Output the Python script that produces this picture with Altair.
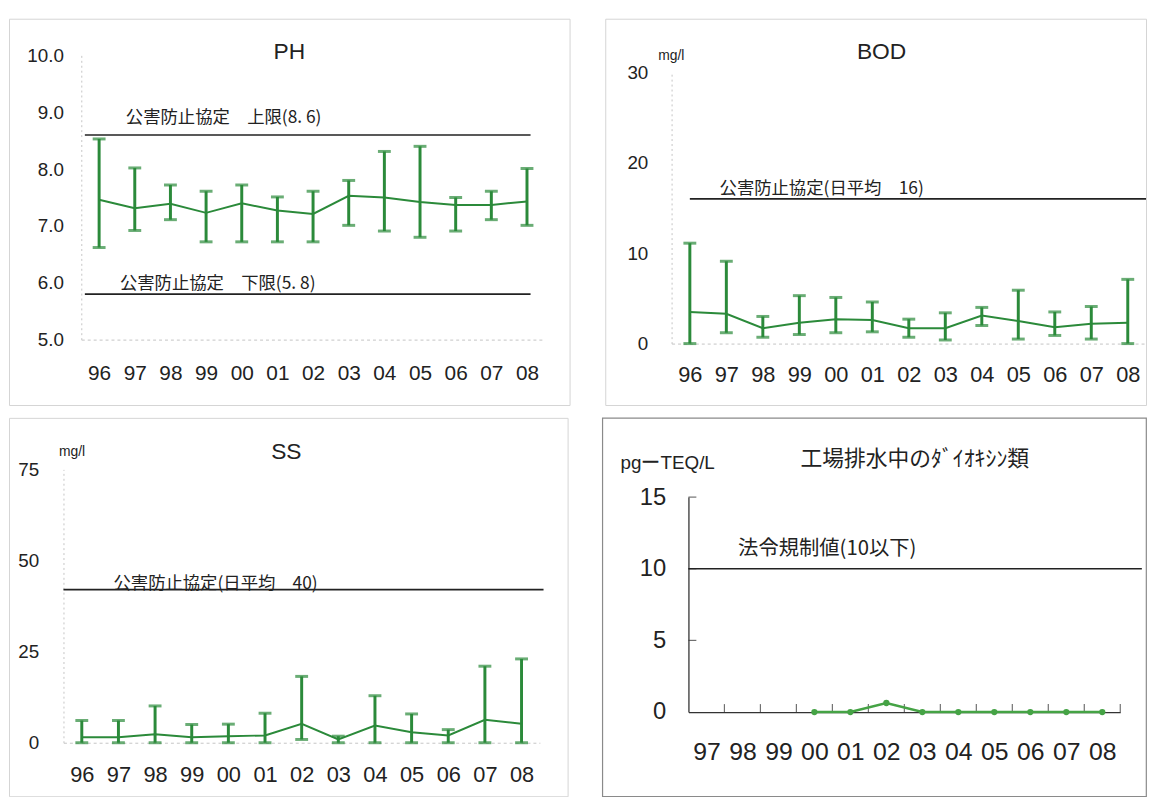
import altair as alt
import pandas as pd

# ---------------- data ----------------
years13 = ["96", "97", "98", "99", "00", "01", "02", "03", "04", "05", "06", "07", "08"]

ph_mean = [7.46, 7.31, 7.39, 7.23, 7.40, 7.27, 7.21, 7.53, 7.50, 7.42, 7.37, 7.37, 7.43]
ph_min = [6.62, 6.92, 7.11, 6.72, 6.72, 6.72, 6.72, 7.01, 6.91, 6.80, 6.91, 7.11, 7.01]
ph_max = [8.53, 8.02, 7.72, 7.61, 7.72, 7.51, 7.61, 7.80, 8.31, 8.40, 7.50, 7.61, 8.01]

bod_mean = [3.5, 3.3, 1.7, 2.3, 2.7, 2.6, 1.7, 1.7, 3.1, 2.5, 1.8, 2.2, 2.3]
bod_min = [0.0, 1.2, 0.7, 1.0, 1.2, 1.3, 0.7, 0.4, 2.0, 0.5, 0.9, 0.5, 0.0]
bod_max = [11.1, 9.1, 3.0, 5.3, 5.1, 4.6, 2.7, 3.4, 4.0, 5.9, 3.5, 4.1, 7.1]

ss_mean = [1.5, 1.5, 2.3, 1.5, 1.8, 2.0, 5.2, 0.9, 4.7, 2.9, 2.0, 6.3, 5.2]
ss_min = [0.0, 0.0, 0.0, 0.0, 0.0, 0.0, 0.9, 0.0, 0.0, 0.0, 0.0, 0.0, 0.0]
ss_max = [6.1, 6.1, 10.1, 5.0, 5.1, 8.1, 18.2, 1.8, 12.9, 7.9, 3.6, 21.0, 23.0]

dio_years = ["97", "98", "99", "00", "01", "02", "03", "04", "05", "06", "07", "08"]
dio_measured = ["00", "01", "02", "03", "04", "05", "06", "07", "08"]
dio_values = [0.0, 0.0, 0.63, 0.0, 0.0, 0.0, 0.0, 0.0, 0.0]

ph_ticks = [5, 6, 7, 8, 9, 10]
bod_ticks = [0, 10, 20, 30]
ss_ticks = [0, 25, 50, 75]
dio_ticks = [0, 5, 10, 15]

ph_upper, ph_lower = 8.6, 5.8
bod_limit = 16
ss_limit = 42
dio_limit = 10

# ---------------- styling ----------------
FONT = "Liberation Sans"
JP = "Noto Sans CJK JP"
GREEN = "#2b8a3a"
LGREEN = "#45a345"
INK = "#222222"
FAINT = "#c4c4c4"


def label_expr(cats):
    return "[" + ",".join("'%s'" % c for c in cats) + "][datum.value]"


def errbar_panel(cats, mean, lo, hi, *, title, title_dx, title_off, W, H, xr, yr,
                 ydom, yvals, yfmt, ylabfs, ylabpad, xlabfs, xlabpad,
                 unit=None, unit_x=0, unit_y=0, refs=()):
    n = len(cats)
    df = pd.DataFrame({"i": list(range(n)), "mean": mean, "lo": lo, "hi": hi})
    caps = pd.DataFrame({"i": list(range(n)) * 2, "v": list(lo) + list(hi)})

    xscale = alt.Scale(domain=[-0.5, n - 0.5], range=xr, nice=False, zero=False)
    yscale = alt.Scale(domain=ydom, range=yr, nice=False, zero=False)
    xaxis = alt.Axis(orient="bottom", offset=yr[0] - H, values=list(range(n)),
                     labelExpr=label_expr(cats), title=None, grid=False,
                     ticks=False, tickSize=0, domainColor=FAINT, domainDash=[3, 3],
                     domainWidth=1, labelFont=FONT, labelFontSize=xlabfs,
                     labelColor=INK, labelPadding=xlabpad)
    yargs = dict(orient="left", offset=-xr[0], values=yvals, format=yfmt, grid=False,
                 ticks=False, tickSize=0, domainColor=FAINT, domainDash=[2, 3],
                 domainWidth=1, labelFont=FONT, labelFontSize=ylabfs, labelColor=INK,
                 labelPadding=ylabpad)
    if unit:
        yargs.update(title=unit, titleAngle=0, titleX=unit_x, titleY=unit_y,
                     titleAlign="left", titleBaseline="alphabetic", titleFont=FONT,
                     titleFontSize=14, titleFontWeight="normal", titleColor=INK)
    else:
        yargs.update(title=None)
    yaxis = alt.Axis(**yargs)

    def X(f):
        return alt.X(f, type="quantitative", scale=xscale, axis=xaxis)

    def Y(f):
        return alt.Y(f, type="quantitative", scale=yscale, axis=yaxis)

    base = alt.Chart(df)
    layers = [
        base.mark_rule(color=GREEN, strokeWidth=3).encode(x=X("i"), y=Y("lo"), y2="hi"),
        alt.Chart(caps).mark_tick(color=GREEN, orient="horizontal", size=13,
                                  thickness=3).encode(x=X("i"), y=Y("v")),
        base.mark_line(color=GREEN, strokeWidth=2).encode(x=X("i"), y=Y("mean")),
    ]
    for r in refs:
        rdf = pd.DataFrame({"x0": [r["x0"]], "x1": [r["x1"]], "y": [r["y"]],
                            "tx": [r["tx"]], "label": [r["text"]]})
        rc = alt.Chart(rdf)
        layers.append(rc.mark_rule(color=INK, strokeWidth=1.6).encode(
            x=X("x0"), x2="x1", y=Y("y")))
        layers.append(rc.mark_text(align="left", baseline="middle", font=JP,
                                   fontSize=r["fs"], color=INK, dx=r["dx"],
                                   dy=r["dy"]).encode(x=X("tx"), y=Y("y"), text="label:N"))

    return alt.layer(*layers).properties(
        width=W, height=H,
        title=alt.TitleParams(text=title, anchor="middle", frame="group",
                              offset=title_off, baseline="alphabetic", dx=title_dx,
                              font=FONT, fontSize=23, fontWeight="normal", color=INK),
        view=alt.ViewBackground(stroke="#d4d4d4", strokeWidth=1),
    )


ph = errbar_panel(
    years13, ph_mean, ph_min, ph_max, title="PH", title_dx=0, title_off=-64,
    W=566, H=390, xr=[73, 541], yr=[324, 37], ydom=[5, 10], yvals=ph_ticks, yfmt=".1f",
    ylabfs=19, ylabpad=18, xlabfs=21, xlabpad=23,
    refs=[
        dict(y=ph_upper, x0=-0.4, x1=12.1, tx=0, text="公害防止協定　上限(8. 6)",
             dx=27, dy=-17, fs=17.5),
        dict(y=ph_lower, x0=-0.4, x1=12.1, tx=0, text="公害防止協定　下限(5. 8)",
             dx=21, dy=-10, fs=17.5),
    ])

bod = errbar_panel(
    years13, bod_mean, bod_min, bod_max, title="BOD", title_dx=6, title_off=-64,
    W=546, H=390, xr=[67, 546], yr=[328, 54], ydom=[0, 30], yvals=bod_ticks, yfmt="d",
    ylabfs=19, ylabpad=24, xlabfs=22, xlabpad=21,
    unit="mg/l", unit_x=-14, unit_y=41,
    refs=[
        dict(y=bod_limit, x0=0, x1=12.5, tx=0, text="公害防止協定(日平均　16)",
             dx=30, dy=-10, fs=17.5),
    ])

ss = errbar_panel(
    years13, ss_mean, ss_min, ss_max, title="SS", title_dx=-2, title_off=-65,
    W=564, H=382, xr=[55, 536], yr=[328, 52], ydom=[0, 75], yvals=ss_ticks, yfmt="d",
    ylabfs=19, ylabpad=25, xlabfs=22, xlabpad=22,
    unit="mg/l", unit_x=-5, unit_y=38,
    refs=[
        dict(y=ss_limit, x0=-0.5, x1=12.6, tx=0, text="公害防止協定(日平均　40)",
             dx=32, dy=-6, fs=17.5),
    ])

# ---------------- dioxin panel ----------------
W4, H4 = 549, 382
xr4, yr4 = [87, 523], [297, 80]
n4 = len(dio_years)
dio_df = pd.DataFrame({"i": [dio_years.index(c) for c in dio_measured], "v": dio_values})
xscale4 = alt.Scale(domain=[-0.5, n4 - 0.5], range=xr4, nice=False, zero=False)
yscale4 = alt.Scale(domain=[0, 15], range=yr4, nice=False, zero=False)
xaxis4 = alt.Axis(orient="bottom", offset=yr4[0] - H4, values=list(range(n4)),
                  labelExpr=label_expr(dio_years), title=None, grid=False, ticks=False,
                  tickSize=0, domainColor="#333333", domainWidth=1.3, labelFont=FONT,
                  labelFontSize=25, labelColor=INK, labelPadding=28)
yaxis4 = alt.Axis(orient="left", offset=-xr4[0], values=dio_ticks, format="d", grid=False,
                  ticks=False, tickSize=0, domainColor="#333333", domainWidth=1.3,
                  labelFont=FONT, labelFontSize=24, labelColor=INK, labelPadding=23,
                  title="pgーTEQ/L", titleAngle=0, titleX=-69, titleY=51,
                  titleAlign="left", titleBaseline="alphabetic", titleFont=FONT,
                  titleFontSize=19, titleFontWeight="normal", titleColor=INK)


def X4(f):
    return alt.X(f, type="quantitative", scale=xscale4, axis=xaxis4)


def Y4(f):
    return alt.Y(f, type="quantitative", scale=yscale4, axis=yaxis4)


ytick_df = pd.DataFrame({"x": [-0.5] * 3, "y": dio_ticks[1:]})
xtick_df = pd.DataFrame({"x": [k + 0.5 for k in range(n4)], "y": [0] * n4})
ref4 = pd.DataFrame({"x0": [-0.5], "x1": [12.1], "y": [dio_limit], "tx": [0],
                     "label": ["法令規制値(10以下)"]})

dio = alt.layer(
    alt.Chart(ytick_df).mark_tick(color="#333333", orient="horizontal", size=8,
                                  thickness=1.2, xOffset=4).encode(x=X4("x"), y=Y4("y")),
    alt.Chart(xtick_df).mark_tick(color="#333333", orient="vertical", size=8,
                                  thickness=1.2, yOffset=-4).encode(x=X4("x"), y=Y4("y")),
    alt.Chart(ref4).mark_rule(color=INK, strokeWidth=1.6).encode(x=X4("x0"), x2="x1", y=Y4("y")),
    alt.Chart(ref4).mark_text(align="left", baseline="middle", font=JP, fontSize=20.5,
                              color=INK, dx=32, dy=-20).encode(x=X4("tx"), y=Y4("y"),
                                                               text="label:N"),
    alt.Chart(dio_df).mark_line(color=LGREEN, strokeWidth=2.5).encode(x=X4("i"), y=Y4("v")),
    alt.Chart(dio_df).mark_point(color=LGREEN, filled=True, opacity=1, size=40,
                                 shape="circle").encode(x=X4("i"), y=Y4("v")),
).properties(
    width=W4, height=H4,
    title=alt.TitleParams(text="工場排水中のﾀﾞｲｵｷｼﾝ類", anchor="middle", frame="group",
                          offset=-71, baseline="alphabetic", dx=41, font=JP, fontSize=22,
                          fontWeight="normal", color=INK),
    view=alt.ViewBackground(stroke="#8a8a8a", strokeWidth=1.2),
)

chart = alt.vconcat(
    alt.hconcat(ph, bod, spacing=34),
    alt.hconcat(ss, dio, spacing=33),
    spacing=11,
).properties(
    padding={"left": 0, "top": 6, "right": 0, "bottom": 0},
    background="white",
).configure(font=FONT)

chart.save("out.html", embed_options={"renderer": "svg", "actions": False})
